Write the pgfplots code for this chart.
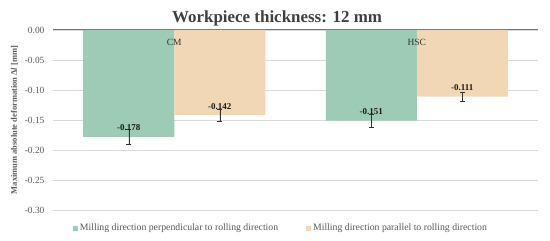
\documentclass[border=0pt]{standalone}
\usepackage{pgfplots}
\pgfplotsset{compat=1.18}
\usepackage{pgfplotstable}
\usepackage{fontspec}
\setmainfont{Liberation Serif}

\definecolor{perp}{HTML}{9DCBB5}
\definecolor{para}{HTML}{F1D7B5}
\definecolor{gridc}{HTML}{D9D9D9}
\definecolor{txt}{HTML}{595959}

\pgfplotstableread{
x y err
0 -0.178 0.012
1 -0.151 0.011
}\perpdata
\pgfplotstableread{
x y err
0 -0.142 0.010
1 -0.111 0.008
}\paradata

\begin{document}
\begin{tikzpicture}
\begin{axis}[
    at={(0,0)}, anchor=south west,
    scale only axis,
    width=485bp, height=180bp,
    ybar=0pt,
    bar width=91bp,
    xmin=-0.5, xmax=1.5,
    ymin=-0.30, ymax=0,
    xtick=\empty,
    ytick={-0.30,-0.25,...,0.001},
    yticklabel style={/pgf/number format/fixed, /pgf/number format/fixed zerofill,
        /pgf/number format/precision=2, font=\fontsize{9.5}{10}\selectfont, text=txt},
    yticklabel shift=5bp,
    /pgf/number format/assume math mode=true,
    major tick length=0pt,
    axis line style={draw=none},
    ymajorgrids,
    grid style={gridc, line width=0.8pt},
    extra y ticks={0},
    extra y tick labels={},
    extra y tick style={grid style={black!55, line width=1pt}},
    ylabel={\textbf{Maximum absolute deformation Δ\textit{l} [mm]}},
    ylabel style={font=\fontsize{8.5}{9}\selectfont, text=txt, yshift=-10bp},
    title={\textbf{Workpiece thickness: 12 mm}},
    title style={at={(0.462,1)}, anchor=base, yshift=2bp, font=\fontsize{17}{19}\selectfont, text=black!75},
    nodes near coords={\pgfmathprintnumber[fixed,precision=3,zerofill]{\pgfplotspointmeta}},
    every node near coord/.append style={anchor=south, font=\bfseries\fontsize{9}{10}\selectfont, text=black!90, yshift=2.5bp},
    legend style={at={(0.47,0)}, anchor=north, yshift=-10bp, legend columns=2, draw=none,
        font=\fontsize{9.8}{11}\selectfont, text=txt,
        /tikz/every even column/.append style={column sep=26bp}},
    legend image code/.code={\path[#1, draw=none] (0bp,-2.5bp) rectangle (5bp,2.5bp);},
    clip=false,
    after end axis/.code={
        \node[anchor=north, yshift=-6bp, font=\fontsize{9.5}{10}\selectfont, text=black!80] at (axis cs:0,0) {CM};
        \node[anchor=north, yshift=-6bp, font=\fontsize{9.5}{10}\selectfont, text=black!80] at (axis cs:1,0) {HSC};
    },
]
\addplot[fill=perp, draw=none,
    error bars/.cd, y dir=both, y explicit,
    error bar style={black!80, line width=0.5pt},
    error mark options={rotate=90, black!80, mark size=2.5bp, line width=0.5pt}]
    table[x=x, y=y, y error=err] {\perpdata};
\addplot[fill=para, draw=none,
    error bars/.cd, y dir=both, y explicit,
    error bar style={black!80, line width=0.5pt},
    error mark options={rotate=90, black!80, mark size=2.5bp, line width=0.5pt}]
    table[x=x, y=y, y error=err] {\paradata};
\legend{Milling direction perpendicular to rolling direction, Milling direction parallel to rolling direction}
\end{axis}
\pgfresetboundingbox
\path[use as bounding box] (-53bp,-31bp) rectangle (497bp,210bp);
\end{tikzpicture}
\end{document}
